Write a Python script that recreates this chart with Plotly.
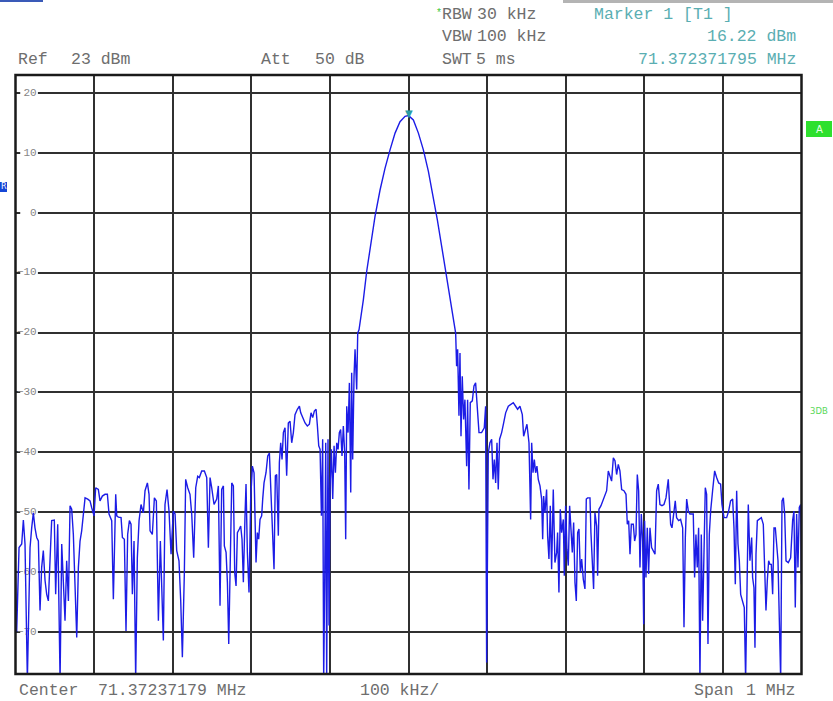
import plotly.graph_objects as go

W, H = 833, 701

# ---------------- data (frequency offset from centre in kHz, level in dBm) ----------------
center_mhz = 71.37237179
span_mhz = 1.0
ref_level_dbm = 23
bottom_level_dbm = -77
marker_freq_khz = 0.0
marker_level_dbm = 16.22
y_ticks = [20, 10, 0, -10, -20, -30, -40, -50, -60, -70]
x_grid = [-400, -300, -200, -100, 0, 100, 200, 300, 400]

noise_left = [
    (-500.0, -59.8), (-498.5, -69.9), (-495.5, -55.9), (-492.1, -55.3), (-490.0, -51.3),
    (-487.9, -55.3), (-484.9, -78.0), (-481.5, -55.9), (-479.4, -52.6), (-477.3, -50.1),
    (-475.2, -52.6), (-473.0, -54.2), (-470.9, -54.8), (-468.8, -66.4), (-466.7, -59.2),
    (-464.6, -56.4), (-462.4, -61.4), (-460.3, -63.7), (-458.2, -64.8), (-456.1, -59.2),
    (-454.0, -51.4), (-450.6, -51.3), (-448.9, -63.7), (-446.3, -52.0), (-443.3, -78.0),
    (-441.2, -55.3), (-438.7, -63.7), (-437.0, -68.1), (-434.9, -58.1), (-432.7, -64.8),
    (-430.6, -48.9), (-428.5, -49.5), (-426.4, -53.7), (-424.3, -63.7), (-422.1, -70.9),
    (-420.0, -59.2), (-417.9, -54.8), (-415.8, -53.1), (-413.7, -49.8), (-411.5, -47.6),
    (-408.1, -47.8), (-405.2, -48.1), (-403.1, -49.2), (-400.1, -50.6), (-398.0, -45.9),
    (-394.6, -46.2), (-392.5, -48.1), (-389.5, -47.3), (-386.1, -47.0), (-383.1, -47.0),
    (-381.0, -50.3), (-377.6, -51.4), (-375.5, -64.5), (-373.4, -54.8), (-372.5, -47.0),
    (-371.2, -50.6), (-369.1, -50.8), (-365.7, -50.9), (-364.0, -54.2), (-361.5, -54.5),
    (-359.4, -69.8), (-357.3, -53.7), (-355.1, -51.4), (-353.0, -52.0), (-351.3, -63.7),
    (-349.2, -54.8), (-347.1, -78.0), (-345.0, -57.6), (-342.8, -51.4), (-340.3, -48.7),
    (-337.3, -50.1), (-335.2, -46.4), (-332.2, -45.1), (-330.1, -47.0), (-328.8, -53.1),
    (-325.9, -53.7), (-323.3, -47.6), (-320.8, -48.1), (-318.2, -68.1), (-315.7, -54.8),
    (-314.0, -61.4), (-311.9, -71.4), (-309.8, -48.7), (-307.2, -46.2), (-304.7, -49.8),
    (-302.1, -57.0), (-299.2, -49.8), (-297.0, -50.3), (-294.9, -56.4), (-292.0, -58.1),
    (-289.8, -64.8), (-287.7, -74.2), (-285.2, -60.3), (-283.5, -44.5), (-280.9, -45.9),
    (-278.0, -47.0), (-275.8, -50.3), (-273.3, -57.6), (-270.7, -45.9), (-268.2, -44.0),
    (-266.1, -44.2), (-263.1, -43.1), (-259.7, -43.1), (-256.7, -44.2), (-254.6, -55.9),
    (-252.5, -44.2), (-250.4, -45.9), (-247.4, -48.7),
]

rise_left = [
    (-244.0, -47.8), (-241.9, -45.6), (-239.8, -65.6), (-237.7, -46.2), (-235.5, -45.6),
    (-234.3, -55.6), (-232.1, -56.7), (-230.4, -61.7), (-228.7, -72.0), (-227.1, -58.9),
    (-224.9, -45.1), (-222.8, -45.6), (-221.1, -60.1), (-219.4, -62.3), (-217.7, -53.4),
    (-215.2, -52.8), (-213.5, -52.3), (-211.8, -54.5), (-210.1, -61.7), (-208.0, -50.6),
    (-206.7, -45.3), (-205.0, -56.7), (-202.9, -63.4), (-200.8, -47.8), (-198.6, -42.3),
    (-196.5, -43.4), (-195.2, -50.1), (-194.0, -58.4), (-192.3, -53.4), (-190.6, -54.5),
    (-188.9, -51.2), (-186.8, -50.6), (-185.5, -47.8), (-183.8, -45.1), (-181.3, -43.4),
    (-179.1, -40.6), (-177.0, -40.1), (-174.9, -47.8), (-172.8, -53.4), (-171.1, -59.5),
    (-169.4, -43.9), (-167.7, -43.7), (-165.6, -53.9), (-164.3, -41.7), (-162.6, -38.4),
    (-160.9, -41.2), (-159.2, -36.7), (-157.1, -35.9), (-155.0, -43.9), (-152.9, -35.1),
    (-150.7, -34.8), (-148.6, -38.4), (-146.5, -36.7), (-144.4, -33.7), (-141.4, -32.8),
    (-138.8, -32.3), (-137.1, -33.4), (-134.6, -34.2), (-131.6, -35.1), (-128.7, -35.6),
    (-126.1, -35.3), (-124.0, -33.4), (-121.9, -34.2), (-119.8, -33.1), (-117.6, -32.8),
    (-115.9, -35.6), (-114.2, -38.9), (-112.5, -39.5), (-110.8, -50.6), (-109.2, -37.8),
    (-107.9, -78.0), (-106.6, -61.7), (-105.3, -38.4), (-104.1, -78.0), (-102.4, -37.8),
    (-101.1, -68.9), (-99.8, -45.6), (-98.1, -39.5), (-96.4, -47.8), (-94.7, -38.9),
    (-93.0, -43.4), (-91.3, -38.4), (-89.6, -39.5), (-88.0, -36.7), (-86.3, -36.2),
    (-84.6, -40.6), (-82.9, -35.6), (-81.2, -40.1), (-79.9, -54.5), (-78.6, -32.3),
    (-76.9, -36.7), (-75.2, -28.4), (-73.5, -46.7), (-72.3, -26.7), (-71.0, -41.2),
    (-69.3, -27.3), (-68.0, -22.8), (-65.9, -29.5), (-64.6, -20.1), (-62.9, -19.5),
    (-60.8, -17.8), (-59.5, -16.2), (-57.4, -14.5),
]

main_lobe = [
    (-53.2, -9.8), (-48.1, -5.1), (-42.6, -0.6), (-36.2, 3.8), (-29.9, 7.4),
    (-23.5, 10.5), (-17.1, 13.3), (-10.8, 15.2), (-4.4, 16.1), (0.0, 16.22),
    (6.2, 15.5), (12.6, 13.3), (18.9, 10.5), (25.3, 6.9), (31.6, 2.7),
    (36.7, -1.2), (42.2, -5.6), (48.6, -10.6), (53.7, -15.1),
]

fall_right = [
    (57.0, -17.8), (60.0, -20.1), (61.2, -25.6), (62.5, -22.8), (64.2, -33.9),
    (65.5, -23.4), (66.8, -37.3), (68.4, -27.3), (70.1, -34.5), (71.8, -31.2),
    (74.0, -42.3), (75.2, -31.2), (76.9, -46.2), (78.6, -31.7), (81.2, -31.4),
    (83.3, -28.9), (85.4, -28.4), (87.1, -31.2), (89.7, -36.7), (93.0, -36.7),
    (96.4, -35.9), (98.1, -32.3), (99.4, -75.1), (101.5, -40.1), (103.6, -38.4),
    (105.8, -37.8), (107.5, -44.5), (109.2, -41.2), (110.9, -45.1), (112.6, -38.4),
    (114.2, -46.2), (115.9, -37.8), (118.5, -36.7), (121.0, -35.1), (123.6, -33.4),
    (127.0, -32.3), (130.4, -32.0), (133.3, -31.7), (136.3, -32.3), (138.8, -32.8),
    (141.8, -32.3), (144.8, -33.7), (146.5, -37.3), (149.0, -36.2), (150.7, -35.3),
    (153.3, -38.4), (154.5, -45.6), (155.4, -51.2), (156.7, -38.4), (158.4, -43.4),
    (160.1, -41.2), (161.7, -43.4), (163.4, -42.3), (165.1, -44.5), (167.3, -45.6),
    (169.4, -47.8), (170.7, -54.5), (171.9, -47.3), (173.6, -50.1), (175.7, -46.2),
    (177.0, -53.9), (178.7, -57.8), (180.4, -48.9), (182.1, -59.5), (184.2, -46.2),
    (186.3, -58.4), (188.5, -56.7), (189.7, -53.4), (191.4, -63.4), (193.1, -49.5),
    (194.8, -53.4), (197.0, -51.2), (198.2, -60.6), (199.9, -48.9), (201.6, -56.2),
    (203.3, -58.9), (205.0, -48.9), (206.7, -53.4), (208.4, -56.7), (210.1, -51.7),
    (211.8, -61.7), (213.5, -64.8), (215.2, -53.4), (216.9, -52.8), (218.6, -60.1),
    (220.3, -57.8), (222.4, -61.2), (224.5, -62.8), (226.2, -47.8), (227.9, -47.6),
    (230.9, -47.6), (232.1, -53.4), (233.8, -57.8), (235.5, -62.8), (237.2, -50.1),
    (239.4, -52.3), (240.6, -60.6), (242.3, -49.5), (244.9, -48.9), (247.8, -47.8),
]

noise_right = [
    (252.1, -46.4), (254.2, -43.1), (256.3, -44.2), (258.4, -44.8), (260.6, -40.9),
    (262.7, -41.4), (264.8, -43.7), (266.9, -42.0), (269.0, -43.1), (271.2, -46.2),
    (274.1, -46.4), (276.7, -47.0), (278.4, -52.0), (280.1, -51.4), (281.8, -57.0),
    (283.5, -52.0), (286.0, -52.0), (287.7, -54.8), (289.4, -53.7), (291.1, -43.7),
    (292.8, -46.4), (294.5, -59.2), (296.2, -50.3), (297.9, -54.8), (299.2, -68.7),
    (300.4, -51.4), (302.1, -60.9), (303.8, -52.6), (305.5, -60.3), (307.2, -52.6),
    (309.3, -55.9), (311.5, -56.4), (313.6, -57.0), (315.7, -46.4), (317.8, -45.3),
    (319.9, -48.7), (322.5, -48.9), (325.0, -48.7), (327.6, -47.6), (330.5, -44.5),
    (331.8, -48.1), (333.5, -52.0), (335.2, -52.6), (337.7, -50.3), (339.4, -48.1),
    (341.1, -50.9), (343.7, -51.4), (346.2, -51.2), (348.8, -52.6), (350.5, -69.2),
    (352.2, -54.2), (353.9, -47.8), (356.0, -49.8), (358.1, -50.3), (360.2, -50.3),
    (362.3, -50.3), (364.0, -60.9), (365.7, -53.7), (367.4, -59.2), (369.1, -52.6),
    (370.8, -78.0), (372.5, -53.7), (374.2, -68.1), (375.9, -55.9), (377.6, -45.9),
    (379.3, -47.0), (381.0, -72.0), (382.7, -53.7), (384.4, -49.8), (386.9, -46.4),
    (389.5, -43.1), (392.0, -44.2), (394.6, -45.1), (397.1, -45.3), (398.8, -48.7),
    (401.4, -50.9), (404.8, -50.9), (407.3, -49.8), (409.8, -48.1), (412.4, -47.8),
    (414.1, -52.6), (415.8, -62.0), (417.5, -46.4), (419.2, -55.3), (420.9, -58.1),
    (422.6, -63.7), (425.1, -64.8), (427.2, -65.9), (428.9, -78.0), (430.6, -59.8),
    (432.3, -48.7), (434.4, -58.1), (436.6, -54.2), (437.8, -60.9), (439.5, -62.6),
    (440.8, -72.6), (442.1, -57.0), (443.8, -51.4), (446.3, -51.2), (448.9, -50.9),
    (451.4, -52.0), (453.1, -60.9), (454.8, -66.4), (456.5, -61.4), (458.2, -58.1),
    (459.9, -58.7), (461.6, -58.7), (463.3, -63.7), (465.0, -52.6), (466.7, -52.6),
    (468.4, -56.4), (470.1, -58.1), (471.8, -68.1), (473.5, -78.0), (475.2, -48.1),
    (476.9, -47.6), (478.6, -50.3), (480.3, -58.1), (483.2, -58.4), (486.2, -57.6),
    (488.7, -51.4), (490.4, -49.8), (492.1, -65.9), (493.8, -50.3), (495.5, -59.2),
    (497.2, -49.2), (498.9, -48.7), (500.0, -62.0),
]

trace_points = noise_left + rise_left + main_lobe + fall_right + noise_right
freq_khz = [p[0] for p in trace_points]
level_dbm = [p[1] for p in trace_points]

# ---------------- layout helpers ----------------
PL, PR, PT, PB = 15.5, 801.5, 75, 674


def fx(px):
    return px / W


def fy(py):
    return 1 - py / H


MONO = "Liberation Mono"
GRAY = "#6e6e6e"
TEAL = "#5aaeb2"

fig = go.Figure()

# y tick labels drawn under the trace
fig.add_trace(go.Scatter(
    x=[-473.0] * len(y_ticks), y=y_ticks, mode="text",
    text=[str(v).replace("-", "\u2212") for v in y_ticks], textposition="middle left",
    textfont=dict(family=MONO, size=11, color="#858585"),
    hoverinfo="skip", showlegend=False,
))

fig.add_trace(go.Scatter(
    x=freq_khz, y=level_dbm, mode="lines",
    line=dict(color="#1c1ce6", width=1.4),
    showlegend=False, hoverinfo="skip",
))

shapes = []
# gaps in the grid lines behind the level labels
for v in y_ticks:
    shapes.append(dict(type="rect", xref="x", yref="y", x0=-494.0, x1=-471.5,
                       y0=v - 0.75, y1=v + 0.75, fillcolor="white",
                       line=dict(width=0), layer="between"))
# frame
shapes.append(dict(type="rect", xref="paper", yref="paper",
                   x0=fx(PL), x1=fx(PR), y0=fy(PB), y1=fy(PT),
                   line=dict(color="#1a1a1a", width=2.5), layer="above"))
# screen bits at the top
shapes.append(dict(type="rect", xref="paper", yref="paper", x0=fx(563), x1=1.0,
                   y0=fy(3), y1=1.0, fillcolor="#b4b4b4", line=dict(width=0)))
shapes.append(dict(type="rect", xref="paper", yref="paper", x0=0.0, x1=fx(43),
                   y0=fy(2), y1=1.0, fillcolor="#3a5ab8", line=dict(width=0)))
# side boxes
shapes.append(dict(type="rect", xref="paper", yref="paper", x0=0.0, x1=fx(7),
                   y0=fy(192), y1=fy(182), fillcolor="#1546d6", line=dict(width=0)))
shapes.append(dict(type="rect", xref="paper", yref="paper", x0=fx(806), x1=fx(832),
                   y0=fy(137), y1=fy(121), fillcolor="#2ee02e", line=dict(width=0)))

ann = []


def text(s, px, py, anchor="left", color=GRAY, size=16.5, family=MONO):
    ann.append(dict(text=s, x=fx(px), y=fy(py), xref="paper", yref="paper",
                    xanchor=anchor, yanchor="middle", showarrow=False,
                    font=dict(family=family, size=size, color=color)))


text("Ref", 16, 60)
text(f"{ref_level_dbm} dBm", 69, 60)
text("Att", 259, 60)
text("50 dB", 313, 60)
text("*", 434, 13, color="#3cc83c", size=10)
text("RBW", 440, 15)
text("30 kHz", 475, 15)
text("VBW", 440, 37)
text("100 kHz", 475, 37)
text("SWT", 440, 59)
text("5 ms", 474, 59)
text("Marker 1 [T1 ]", 592, 15, color=TEAL)
text(f"{marker_level_dbm:.2f} dBm", 798, 37, anchor="right", color=TEAL)
text("71.372371795 MHz", 798, 59, anchor="right", color=TEAL)
text("Center", 17, 690)
text(f"{center_mhz:.8f} MHz", 96, 690)
text("100 kHz/", 399, 690, anchor="center")
text("Span", 692, 690)
text(f"{span_mhz:g} MHz", 798, 690, anchor="right")
text("R", 3.5, 187, anchor="center", color="white", size=8, family="DejaVu Sans")
text("A", 819, 129, anchor="center", color="#e8ffe8", size=10, family="DejaVu Sans")
text("3DB", 808, 411, color="#5ad85a", size=8.5, family="DejaVu Sans")

# marker symbol at the peak
ann.append(dict(text="▼", x=marker_freq_khz, y=marker_level_dbm, xref="x", yref="y",
                xanchor="center", yanchor="bottom", yshift=-5, showarrow=False,
                font=dict(family="DejaVu Sans", size=10, color="#2a9ca4")))

fig.update_layout(
    width=W, height=H,
    margin=dict(l=0, r=0, t=0, b=0),
    paper_bgcolor="white", plot_bgcolor="white",
    shapes=shapes, annotations=ann,
    xaxis=dict(domain=[fx(PL), fx(PR)], range=[-500, 500], tickvals=x_grid,
               showticklabels=False, ticks="", showgrid=True, gridcolor="#303030",
               gridwidth=1.6, zeroline=False, showline=False, fixedrange=True),
    yaxis=dict(domain=[fy(PB), fy(PT)], range=[bottom_level_dbm, ref_level_dbm],
               tickvals=y_ticks, showticklabels=False, ticks="", showgrid=True,
               gridcolor="#303030", gridwidth=1.6, zeroline=False, showline=False,
               fixedrange=True),
)

fig.write_html("out.html", config={"displayModeBar": False})

# remove the browser's default page margin so the figure fills the window exactly
with open("out.html", "r", encoding="utf-8") as fh:
    page = fh.read()
page = page.replace("<head>", "<head><style>html,body{margin:0;padding:0;overflow:hidden;}</style>", 1)
with open("out.html", "w", encoding="utf-8") as fh:
    fh.write(page)
